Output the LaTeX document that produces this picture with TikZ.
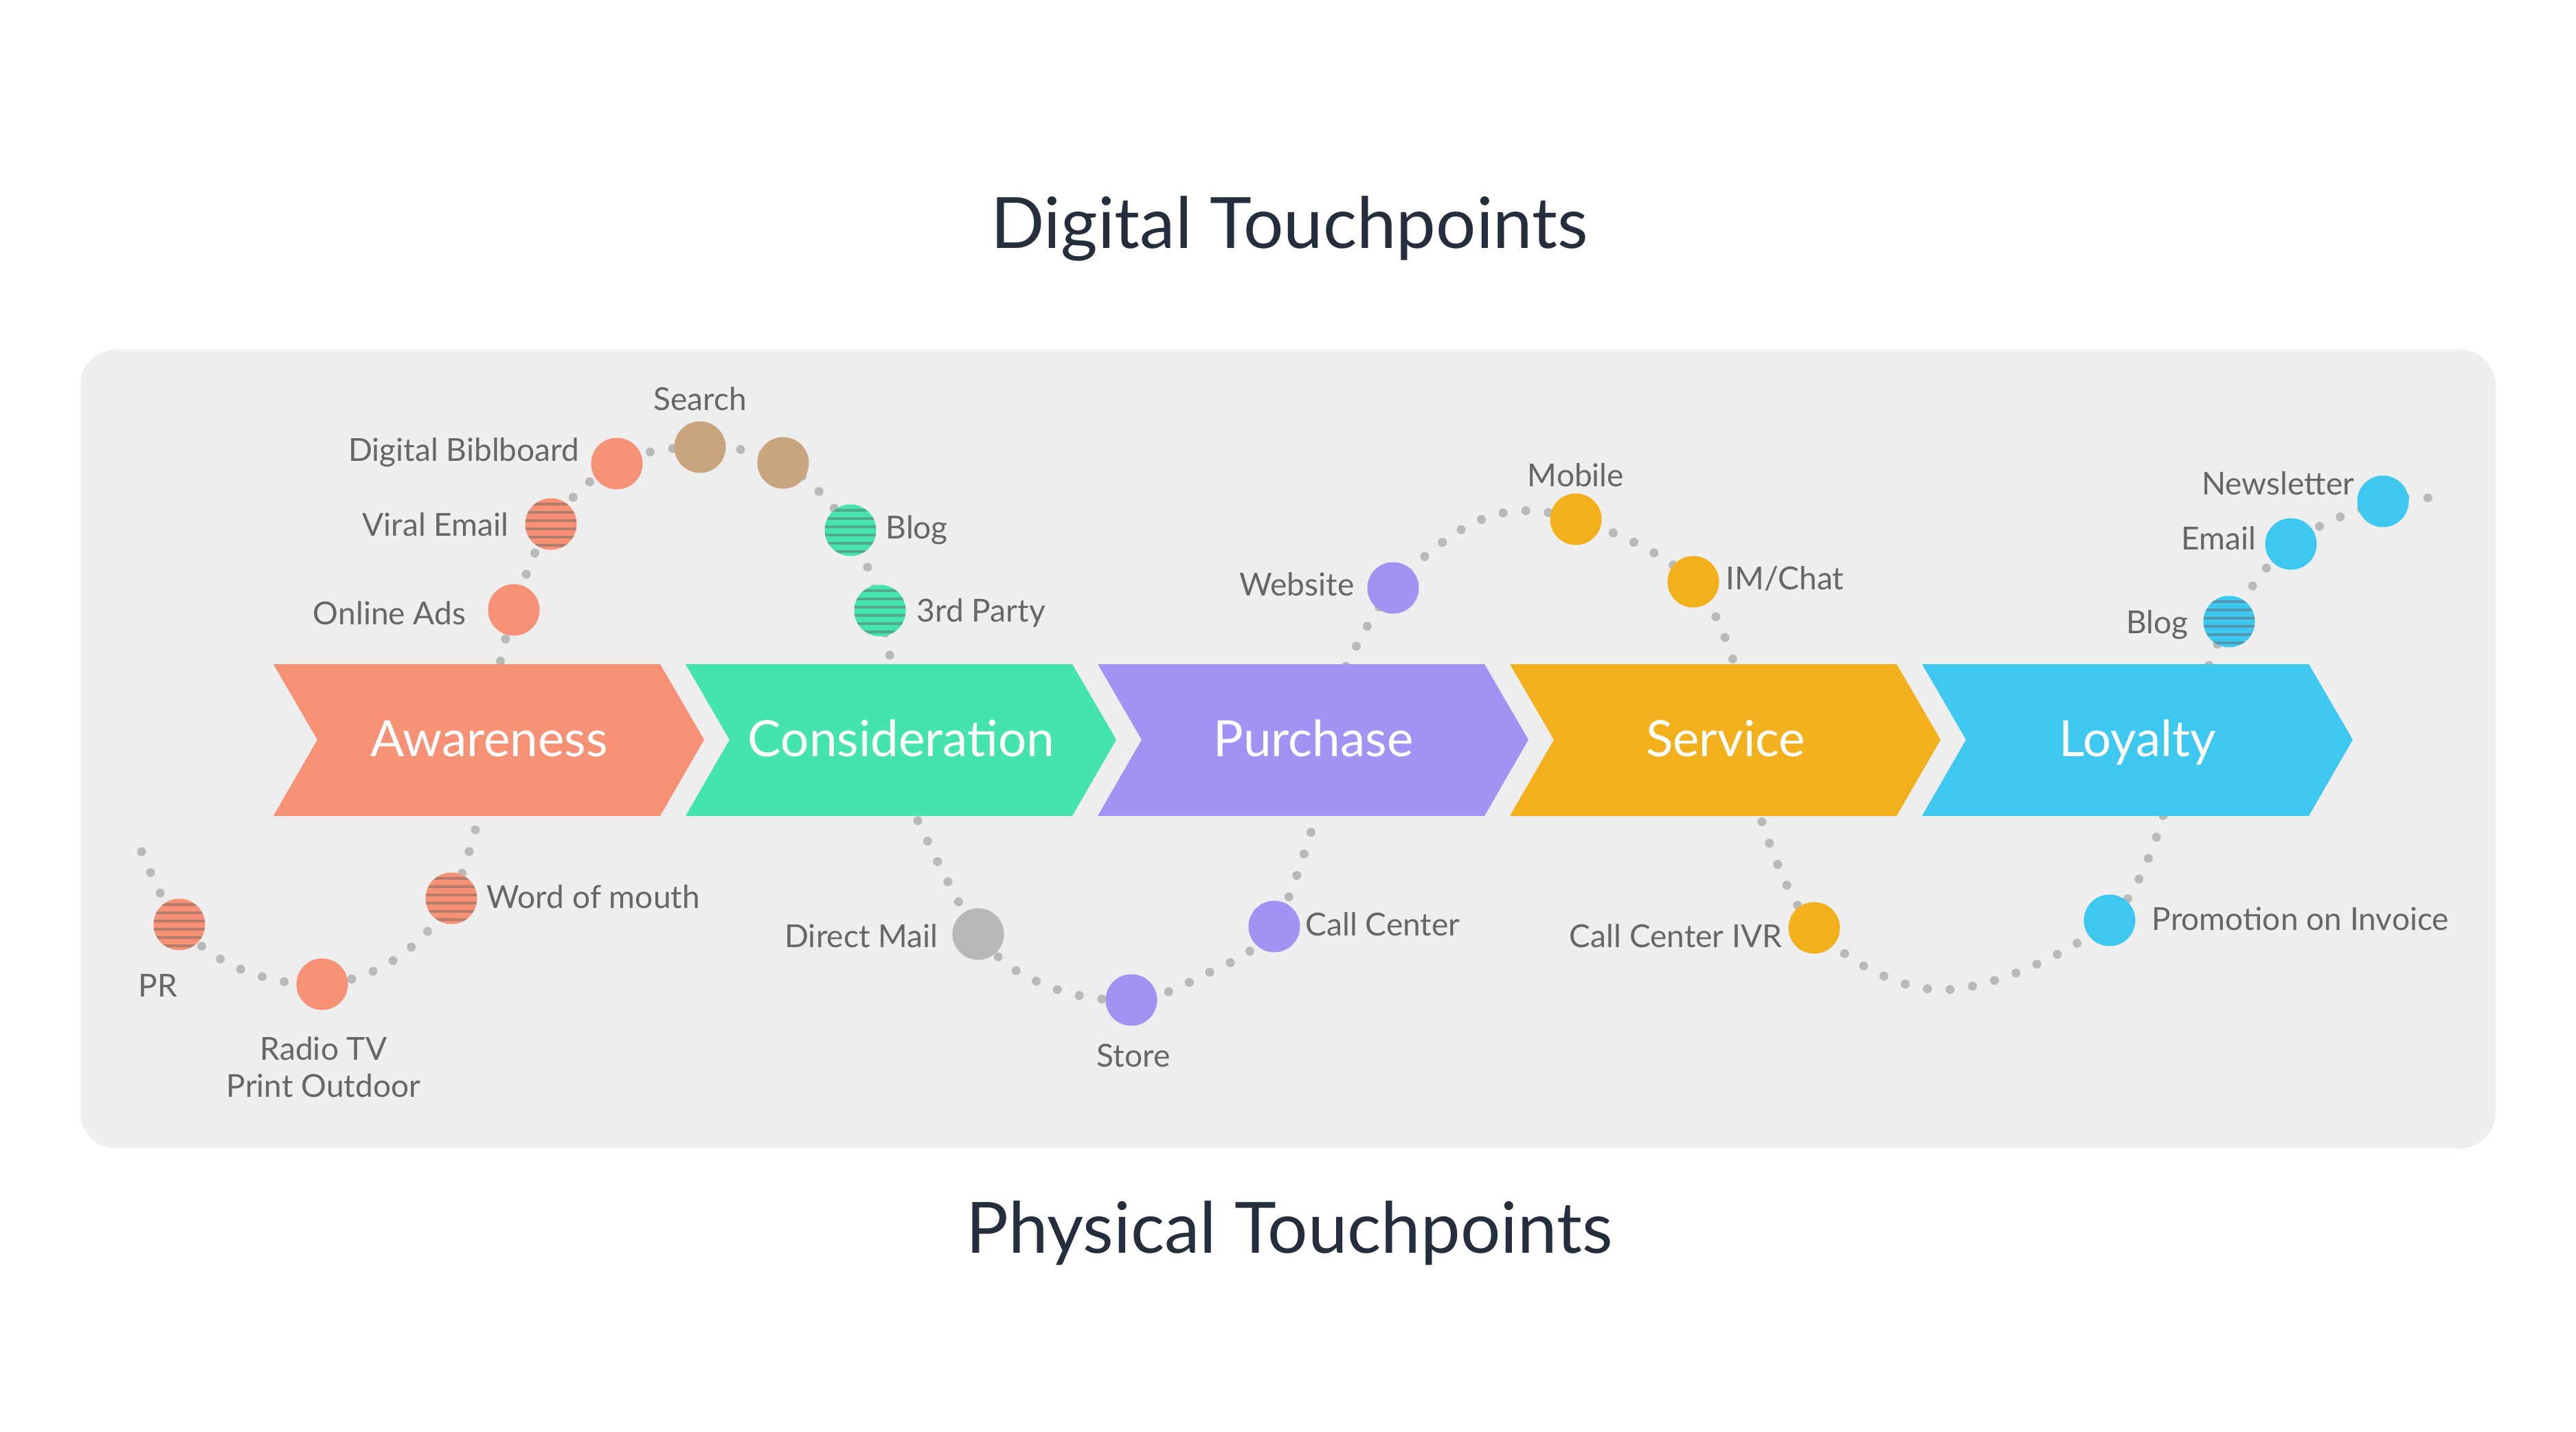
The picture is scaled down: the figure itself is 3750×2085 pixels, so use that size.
\documentclass[tikz,border=0pt]{standalone}
\usepackage{fontspec}
\setmainfont{Lato}
\definecolor{aw}{HTML}{F79176}
\definecolor{co}{HTML}{45E3AE}
\definecolor{pu}{HTML}{A391F3}
\definecolor{se}{HTML}{F3B01D}
\definecolor{lo}{HTML}{3EC8F0}
\definecolor{tan}{HTML}{C8A57F}
\definecolor{gr}{HTML}{B8B8B8}
\definecolor{panel}{HTML}{EEEEEE}
\definecolor{dotc}{HTML}{B9B9B9}
\definecolor{lblc}{HTML}{666666}
\definecolor{titc}{HTML}{252E3D}
\definecolor{stripec}{HTML}{646464}
\pgfdeclarelayer{bg}
\pgfdeclarelayer{mid}
\pgfsetlayers{bg,mid,main}
\begin{document}
\begin{tikzpicture}[x=0.01cm,y=-0.01cm,
  tp/.style={circle, minimum size=0.75cm, inner sep=0pt, draw=none},
  striped/.style={path picture={
    \begin{scope}[shift={(path picture bounding box.center)}]
      \foreach \yy in {-29.5,-17.5,-5.5,6.5,18.5,30.5}
        \fill[stripec, fill opacity=0.45] (-50,\yy-2) rectangle (50,\yy+2);
    \end{scope}}},
  lbl/.style={inner sep=0pt, text=lblc, font=\fontsize{13.1pt}{15.4pt}\selectfont},
  chevtext/.style={inner sep=0pt, text=white, font=\fontsize{20.7pt}{24pt}\selectfont, anchor=base},
  title/.style={inner sep=0pt, text=titc, font=\fontsize{29.3pt}{35pt}\selectfont, anchor=base},
  dots/.style={draw=dotc, line width=3.7pt, line cap=round, dash pattern=on 0pt off 9.4pt}
]
\useasboundingbox (0,0) rectangle (3750,2085);
\begin{pgfonlayer}{bg}
  \fill[white] (0,0) rectangle (3750,2085);
  \fill[panel, rounded corners=0.52cm] (117,509) rectangle (3633,1672);
\end{pgfonlayer}

% titles
\node[title] (t1) at (1877,362) {Digital Touchpoints};
\node[title] (t2) at (1877,1824) {Physical Touchpoints};

% chevrons
\begin{pgfonlayer}{mid}
\foreach \L/\c/\t [count=\i] in {398/aw/Awareness, 998/co/Consideration, 1598/pu/Purchase, 2198/se/Service, 2798/lo/Loyalty}{
  \fill[\c] (\L,967) -- ++(563,0) -- ++(64,110) -- ++(-64,111) -- ++(-563,0) -- ++(64,-111) -- cycle;
  \node[chevtext] (chev\i) at (\L+314,1101) {\t};
}
\end{pgfonlayer}

% digital touchpoints (top)
\node[tp, fill=aw] (oa) at (748,888) {};
\node[tp, fill=aw, striped] (ve) at (802,763) {};
\node[tp, fill=aw] (db) at (898,675) {};
\node[tp, fill=tan] (sr) at (1019,651) {};
\node[tp, fill=tan] (ta) at (1140,674) {};
\node[tp, fill=co, striped] (bla) at (1238,772) {};
\node[tp, fill=co, striped] (tpy) at (1281,889) {};
\node[tp, fill=pu] (ws) at (2028,856) {};
\node[tp, fill=se] (mo) at (2294,756) {};
\node[tp, fill=se] (im) at (2465,847) {};
\node[tp, fill=lo, striped] (blb) at (3245,905) {};
\node[tp, fill=lo] (em) at (3335,792) {};
\node[tp, fill=lo] (nl) at (3469,730) {};

% physical touchpoints (bottom)
\node[tp, fill=aw, striped] (pr) at (261,1346) {};
\node[tp, fill=aw] (rt) at (469,1433) {};
\node[tp, fill=aw, striped] (wm) at (657,1308) {};
\node[tp, fill=gr] (dm) at (1424,1360) {};
\node[tp, fill=pu] (st) at (1647,1456) {};
\node[tp, fill=pu] (cc) at (1855,1349) {};
\node[tp, fill=se] (ivr) at (2641,1351) {};
\node[tp, fill=lo] (pi) at (3071,1340) {};

% labels
\node[lbl, anchor=base east] (loa) at (679,909) {Online Ads};
\node[lbl, anchor=base east] (lve) at (741,780) {Viral Email};
\node[lbl, anchor=base east] (ldb) at (844,671) {Digital Biblboard};
\node[lbl, anchor=base] (lsr) at (1019,597) {Search};
\node[lbl, anchor=base west] (lbla) at (1289,784) {Blog};
\node[lbl, anchor=base west] (ltpy) at (1334,905) {3rd Party};
\node[lbl, anchor=base east] (lws) at (1972,867) {Website};
\node[lbl, anchor=base] (lmo) at (2294,708) {Mobile};
\node[lbl, anchor=base west] (lim) at (2512,858) {IM/Chat};
\node[lbl, anchor=base east] (lblb) at (3186,922) {Blog};
\node[lbl, anchor=base east] (lem) at (3285,800) {Email};
\node[lbl, anchor=base east] (lnl) at (3428,720) {Newsletter};
\node[lbl, anchor=base] (lpr) at (230,1451) {PR};
\node[lbl, anchor=base] (lrt1) at (471,1543) {Radio TV};
\node[lbl, anchor=base] (lrt2) at (471,1597) {Print Outdoor};
\node[lbl, anchor=base west] (lwm) at (708,1322) {Word of mouth};
\node[lbl, anchor=base east] (ldm) at (1366,1379) {Direct Mail};
\node[lbl, anchor=base] (lst) at (1650,1553) {Store};
\node[lbl, anchor=base west] (lcc) at (1900,1362) {Call Center};
\node[lbl, anchor=base east] (livr) at (2595,1379) {Call Center IVR};
\node[lbl, anchor=base west] (lpi) at (3132,1354) {Promotion on Invoice};

% free ends / waypoints of the dotted journeys
\coordinate (p1a) at (722,995);
\coordinate (p1b) at (1302,995);
\coordinate (p2a) at (1945,1000);
\coordinate (p2m) at (2160,755);
\coordinate (p2b) at (2535,1000);
\coordinate (p3a) at (3205,1000);
\coordinate (p3b) at (3542,726);
\coordinate (p4a) at (206,1240);
\coordinate (p4m) at (350,1411);
\coordinate (p4n) at (576,1396);
\coordinate (p4b) at (702,1170);
\coordinate (p5a) at (1322,1165);
\coordinate (p5m) at (1521,1434);
\coordinate (p5n) at (1750,1421);
\coordinate (p5b) at (1922,1165);
\coordinate (p6a) at (2555,1165);
\coordinate (p6m) at (2832,1441);
\coordinate (p6b) at (3155,1165);

\begin{pgfonlayer}{bg}
\draw[dots] plot[smooth, tension=0.6] coordinates {(p1a) (oa.center) (ve.center) (db.center) (sr.center) (ta.center) (bla.center) (tpy.center) (p1b)};
\draw[dots] plot[smooth, tension=0.6] coordinates {(p2a) (ws.center) (p2m) (mo.center) (im.center) (p2b)};
\draw[dots] plot[smooth, tension=0.6] coordinates {(p3a) (blb.center) (em.center) (nl.center) (p3b)};
\draw[dots] plot[smooth, tension=0.6] coordinates {(p4a) (pr.center) (p4m) (rt.center) (p4n) (wm.center) (p4b)};
\draw[dots] plot[smooth, tension=0.6] coordinates {(p5a) (dm.center) (p5m) (st.center) (p5n) (cc.center) (p5b)};
\draw[dots] plot[smooth, tension=0.6] coordinates {(p6a) (ivr.center) (p6m) (pi.center) (p6b)};
\end{pgfonlayer}
\end{tikzpicture}
\end{document}
